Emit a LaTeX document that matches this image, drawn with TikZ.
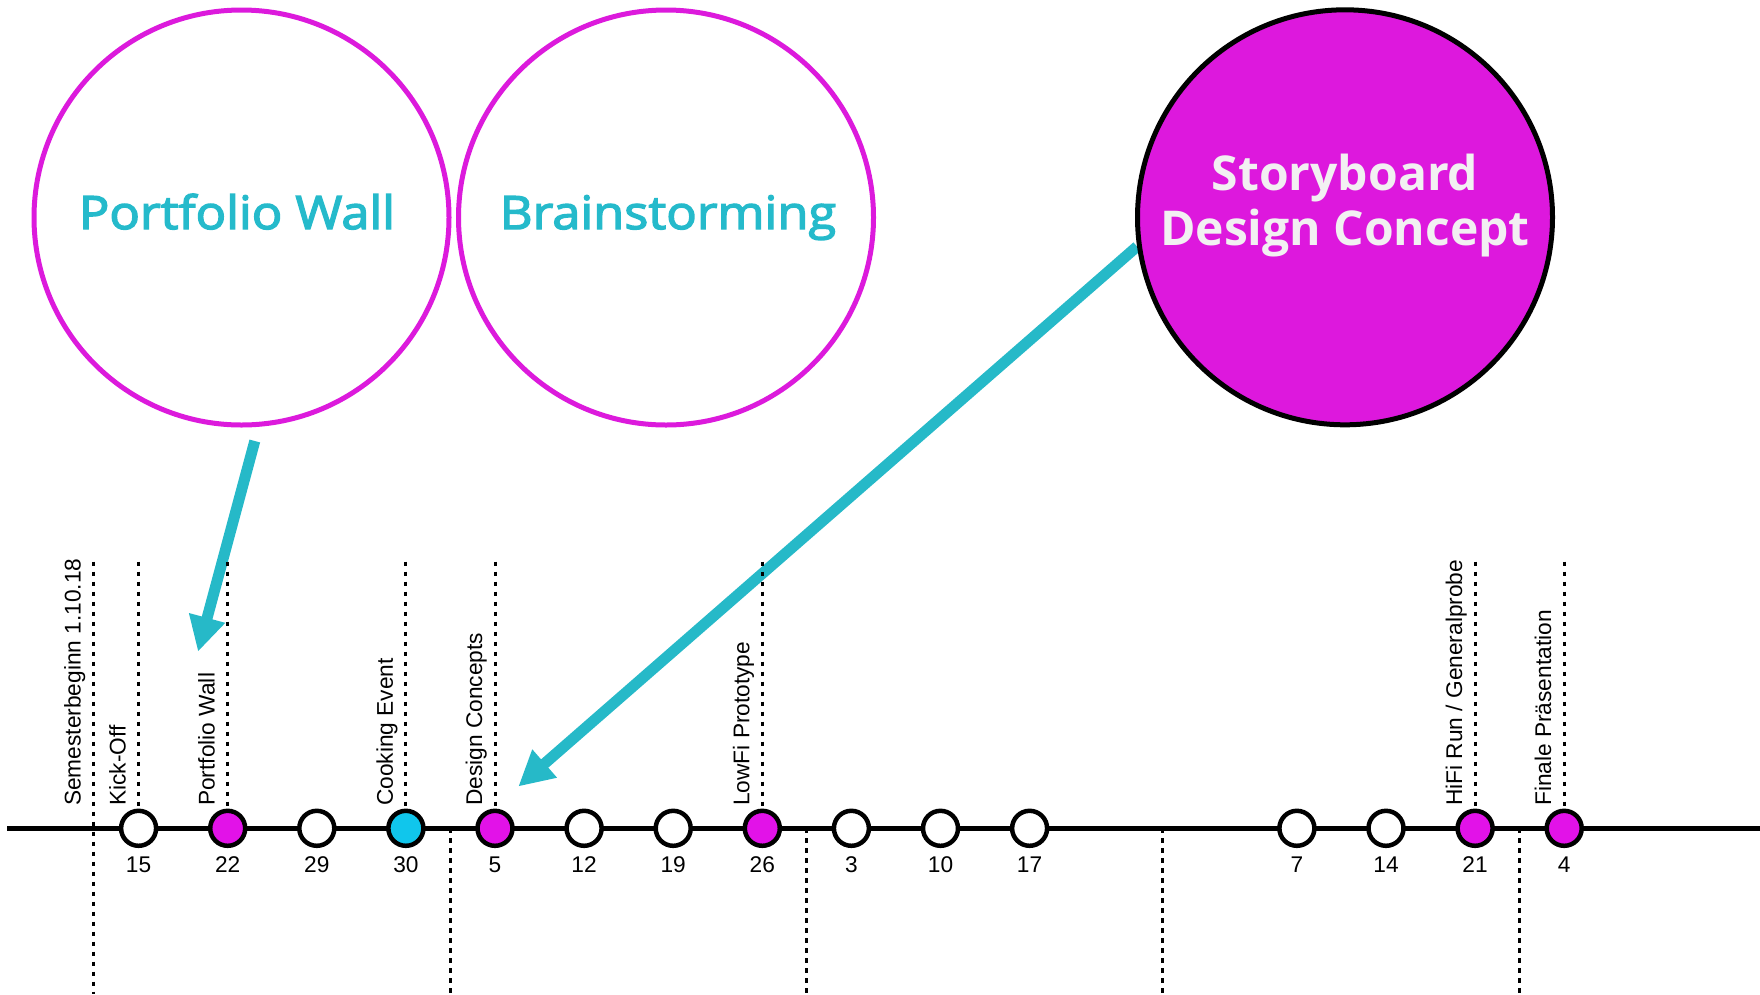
\documentclass[tikz,border=0pt]{standalone}
\usepackage{fontspec}
\setmainfont{Liberation Sans}
\newfontfamily\circlefont{Open Sans}[FakeStretch=1.1,FakeBold=3]
\newfontfamily\storyfont{Open Sans}
\usetikzlibrary{arrows.meta}

\definecolor{magline}{RGB}{220,26,220}
\definecolor{magfill}{RGB}{221,24,221}
\definecolor{dotmag}{RGB}{226,18,232}
\definecolor{dotcyan}{RGB}{16,198,236}
\definecolor{tealarrow}{RGB}{38,185,200}
\definecolor{tealtext}{RGB}{37,186,203}
\definecolor{paletext}{RGB}{242,240,242}

\pgfdeclarelayer{behind}
\pgfsetlayers{behind,main}

\begin{document}
\begin{tikzpicture}[x=1pt,y=-1pt,
  bigcirc/.style={circle, minimum size=415pt, inner sep=0pt, line width=5pt},
  topic/.style={font=\circlefont\fontsize{46}{50}\selectfont, text=tealtext, inner sep=0pt, anchor=base},
  week/.style={circle, draw=black, line width=4.5pt, minimum size=35pt, inner sep=0pt},
  daynum/.style={font=\fontsize{22.7}{26}\selectfont, inner sep=0pt, anchor=base},
  evlabel/.style={font=\fontsize{22.7}{26}\selectfont, inner sep=0pt, anchor=base west, rotate=90},
  guide/.style={draw=black, line width=3pt, dash pattern=on 4.5pt off 5.5pt},
  bigarrow/.style={draw=tealarrow, line width=11pt, -{Triangle[length=35pt,width=35pt]}},
]
\useasboundingbox (0,0) rectangle (1760,994);

% topic circles
\node[bigcirc, draw=magline] (pw) at (241.5,217.5) {};
\node[topic] (pwText) at (237,229) {Portfolio Wall};
\node[bigcirc, draw=magline] (bs) at (666,217.5) {};
\node[topic] (bsText) at (668,229) {Brainstorming};
\node[bigcirc, draw=black, fill=magfill] (sb) at (1345,217.3) {};
\node[font=\storyfont\bfseries\fontsize{48}{55}\selectfont, text=paletext, align=center, inner sep=0pt] (sbText) at (1345,205.3) {Storyboard\\Design Concept};

% reference levels
\coordinate (guideTop) at (0,561.7);
\coordinate (pageBottom) at (0,994);

% semester start and month boundaries
\coordinate (semStart) at (93.6,561.7);
\draw[guide] (semStart) -- (semStart |- pageBottom);
\node[evlabel] (semLabel) at (80.6,806) {Semesterbeginn 1.10.18};
\foreach \m in {1,...,4}{
  \coordinate (month\m) at ({93.6+356.4*\m},828.3);
  \draw[guide] (month\m) -- (month\m |- pageBottom);
}

% the time axis
\coordinate (axisStart) at (7,828.3);
\coordinate (axisEnd) at (1760,828.3);
\draw[line width=4.5pt] (axisStart) -- (axisEnd);

% weekly dates
\foreach \k/\d/\c in {0/15/white,1/22/dotmag,2/29/white,3/30/dotcyan,4/5/dotmag,
  5/12/white,6/19/white,7/26/dotmag,8/3/white,9/10/white,10/17/white,
  13/7/white,14/14/white,15/21/dotmag,16/4/dotmag}{
  \node[week, fill=\c] (w\k) at ({138.6+89.1*\k},828.3) {};
  \node[daynum] (n\k) at ({138.6+89.1*\k},872) {\d};
}

% milestones
\foreach \k/\t in {0/{Kick-Off},1/{Portfolio Wall},3/{Cooking Event},4/{Design Concepts},
  7/{LowFi Prototype},15/{HiFi Run / Generalprobe},16/{Finale Präsentation}}{
  \draw[guide] (w\k.north |- guideTop) -- (w\k.north);
  \node[evlabel] (ev\k) at ({138.6+89.1*\k-13},806) {\t};
}

% arrows from topics to milestones
\coordinate (pwTail) at (254.8,441);
\coordinate (pwTip) at (198,651.7);
\coordinate (dcTip) at (518.3,786.5);
\begin{pgfonlayer}{behind}
  \draw[bigarrow] (pwTail) -- (pwTip);
  \draw[bigarrow] (sb.188.75) -- (dcTip);
\end{pgfonlayer}
\end{tikzpicture}
\end{document}
